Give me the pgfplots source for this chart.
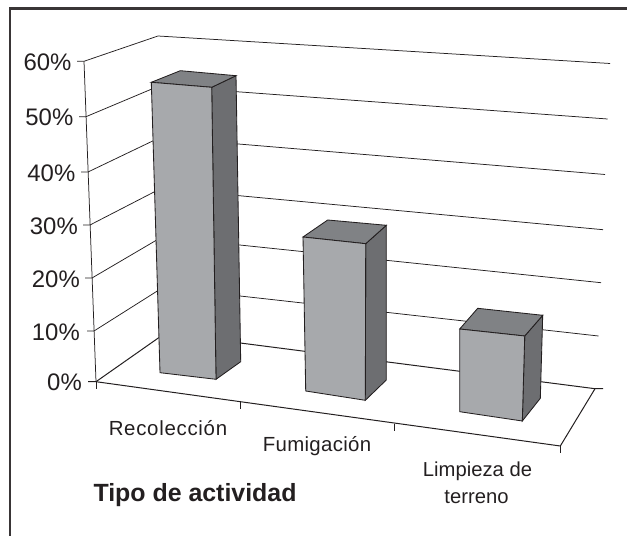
\documentclass[border=0pt]{standalone}
\usepackage{fontspec}
\setmainfont{Liberation Sans}
\usepackage{pgfplots}
\pgfplotsset{compat=1.18}
\definecolor{ink}{HTML}{231F20}
\definecolor{frontc}{HTML}{A7A9AC}
\definecolor{topc}{HTML}{808285}
\definecolor{sidec}{HTML}{6D6E71}
\newcommand{\fs}[1]{\fontsize{#1}{#1}\selectfont}
\tikzset{grid line/.style={line width=0.75bp,draw=ink},
  bar line/.style={line width=0.85bp,draw=ink},
  lab/.style={text=ink,inner sep=0pt}}
\begin{document}
\begin{tikzpicture}[x=1bp,y=1bp]
\useasboundingbox (0,0) rectangle (627,536);
\begin{axis}[at={(0,0)},anchor=south west,scale only axis,width=627bp,height=536bp,
  xmin=0,xmax=627,ymin=0,ymax=536,y dir=reverse,hide axis,clip=true,
  every axis plot/.append style={no markers,line join=miter}]
% frame
\addplot[line width=2.2bp,draw=ink!90] coordinates {(10,536) (10,8.5) (627,8.5)};
% gridlines: tick - left wall - corner - back wall
\addplot[grid line] coordinates {(77,61.3) (84,61.3) (158,36) (610,63.5)};
\addplot[grid line] coordinates {(79,116.7) (86,116.7) (159,86) (607.5,119)};
\addplot[grid line] coordinates {(81,172) (88,172) (160,137.5) (605,174.5)};
\addplot[grid line] coordinates {(83,225) (90,225) (161,188.4) (603,229.7)};
\addplot[grid line] coordinates {(85,278) (92,278) (162,236.9) (601,282.7)};
\addplot[grid line] coordinates {(87,331) (94,331) (163,287.4) (598.5,336)};
% vertical wall edge
\addplot[grid line] coordinates {(84,61.3) (96,381.7)};
% floor
\addplot[line width=1bp,draw=ink] coordinates {(88,381.7) (96,381.7) (165,333.3) (595,388.7) (603,388.7)};
\addplot[line width=1bp,draw=ink] coordinates {(96,381.7) (560.3,446) (595,388.7)};
\addplot[grid line] coordinates {(96,381.7) (96,389)};
\addplot[grid line] coordinates {(240.3,402) (240.3,409)};
\addplot[grid line] coordinates {(394.7,424) (394.7,431)};
\addplot[grid line] coordinates {(560.3,446) (560.3,453)};
% bar 1
\addplot[bar line,fill=sidec] coordinates {(211.7,87.3) (236,75.7) (240.7,361.7) (216,379.3)} -- cycle;
\addplot[bar line,fill=topc] coordinates {(151.3,82.3) (180.3,70.7) (236,75.7) (211.7,87.3)} -- cycle;
\addplot[bar line,fill=frontc] coordinates {(151.3,82.3) (211.7,87.3) (216,379.3) (160,372.7)} -- cycle;
% bar 2
\addplot[bar line,fill=sidec] coordinates {(365.7,243.7) (386.3,225.3) (386.3,380) (365.3,400.3)} -- cycle;
\addplot[bar line,fill=topc] coordinates {(303,237) (327.7,220) (386.3,225.3) (365.7,243.7)} -- cycle;
\addplot[bar line,fill=frontc] coordinates {(303,237) (365.7,243.7) (365.3,400.3) (305.7,391)} -- cycle;
% bar 3
\addplot[bar line,fill=sidec] coordinates {(524.7,336) (542.7,315.3) (540.3,398.3) (522.3,421)} -- cycle;
\addplot[bar line,fill=topc] coordinates {(459.7,329) (477.7,308.3) (542.7,315.3) (524.7,336)} -- cycle;
\addplot[bar line,fill=frontc] coordinates {(459.7,329) (524.7,336) (522.3,421) (459.7,411.7)} -- cycle;
% labels
\node[lab,anchor=east] at (axis cs:71.7,62) {\fs{24}60\%};
\node[lab,anchor=east] at (axis cs:73.5,117) {\fs{24}50\%};
\node[lab,anchor=east] at (axis cs:75.5,173) {\fs{24}40\%};
\node[lab,anchor=east] at (axis cs:78,226) {\fs{24}30\%};
\node[lab,anchor=east] at (axis cs:80,279) {\fs{24}20\%};
\node[lab,anchor=east] at (axis cs:80,332) {\fs{24}10\%};
\node[lab,anchor=east] at (axis cs:82,382) {\fs{24}0\%};
\node[lab] at (axis cs:168,428) {\fs{20.5}\addfontfeature{LetterSpace=3.5}Recolección};
\node[lab] at (axis cs:317,446) {\fs{20.5}\addfontfeature{LetterSpace=1.5}Fumigación};
\node[lab] at (axis cs:477.5,471) {\fs{20.3}Limpieza de};
\node[lab] at (axis cs:476.5,497) {\fs{20.3}terreno};
\node[lab] at (axis cs:195,495.5) {\fs{25}\bfseries Tipo de actividad};
\end{axis}
\end{tikzpicture}
\end{document}
